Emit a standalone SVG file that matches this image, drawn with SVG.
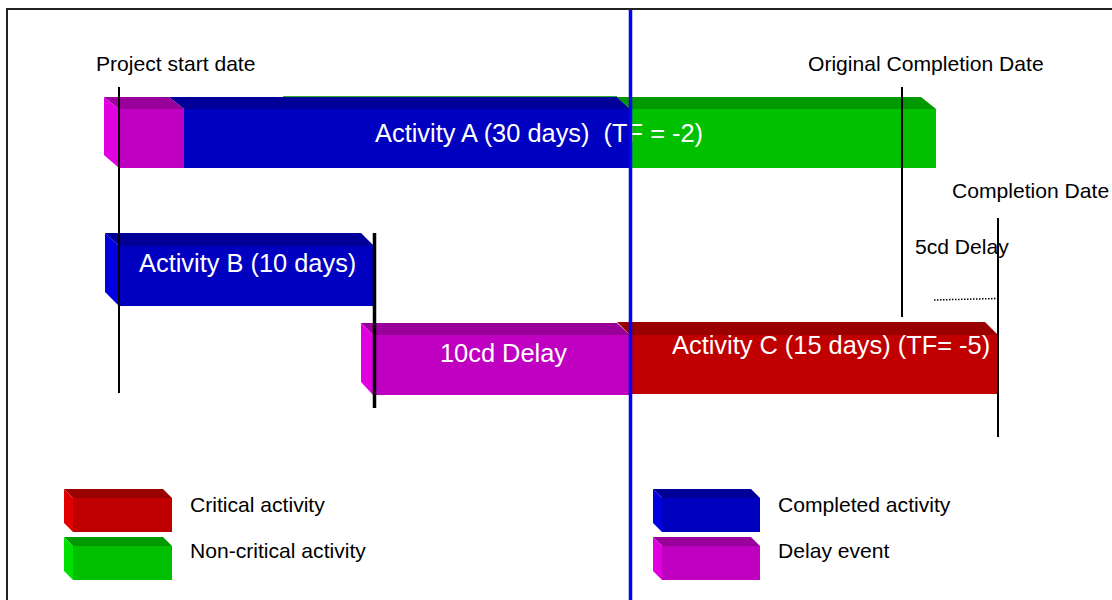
<svg xmlns="http://www.w3.org/2000/svg" width="1112" height="600" viewBox="0 0 1112 600">
<style>
text{font-family:"Liberation Sans",Arial,sans-serif}
.lbl{font-size:21.1px;fill:#000}
.bar{font-size:25.4px;fill:#fff}
.mf{fill:#C000C0}.mt{fill:#990099}.ms{fill:#E000E0}
.bf{fill:#0000C0}.bt{fill:#000099}.bs{fill:#0000E0}
.gf{fill:#00C000}.gt{fill:#009900}.gs{fill:#00E000}
.rf{fill:#C00000}.rt{fill:#990000}.rs{fill:#E00000}
.vl{stroke:#000;stroke-width:2;fill:none}
</style>
<rect width="1112" height="600" fill="#fff"/>
<path d="M7,600 V9 H1112" fill="none" stroke="#222" stroke-width="2"/>

<g id="activity-a">
  <line x1="283" y1="96.5" x2="617" y2="96.5" stroke="#009900" stroke-width="1" opacity="0.8"/>
  <g id="activity-a-green">
    <polygon class="gt" points="617,97 921,97 936,109 630,109"/>
    <rect class="gf" x="630" y="109" width="306" height="59"/>
  </g>
  <g id="activity-a-blue">
    <polygon class="bt" points="169,97 617,97 630,109 184,109"/>
    <rect class="bf" x="184" y="109" width="446" height="59"/>
  </g>
  <g id="activity-a-delay">
    <polygon class="mt" points="104,97 169,97 184,109 119,109"/>
    <polygon class="ms" points="104,97 119,109 119,168 104,155"/>
    <rect class="mf" x="119" y="109" width="65" height="59"/>
  </g>
  <text class="bar" x="375" y="142" xml:space="preserve">Activity A (30 days)  (TF = -2)</text>
</g>

<g id="activity-b">
  <polygon class="bt" points="105,233 361,233 374,246 119,246"/>
  <polygon class="bs" points="105,233 119,246 119,306 105,292"/>
  <rect class="bf" x="119" y="246" width="255" height="60"/>
  <text class="bar" x="139" y="272">Activity B (10 days)</text>
</g>

<g id="delay-10cd">
  <polygon class="mt" points="361,323 617,323 630,335 373,335"/>
  <polygon class="ms" points="361,323 373,335 373,395 361,382"/>
  <rect class="mf" x="373" y="335" width="257" height="60"/>
  <text class="bar" x="440" y="362">10cd Delay</text>
</g>

<g id="activity-c">
  <polygon class="rt" points="617,322 985,322 998,335 630,335"/>
  <rect class="rf" x="630" y="335" width="368" height="59"/>
  <text class="bar" x="672" y="354">Activity C (15 days) (TF= -5)</text>
</g>

<g id="connectors">
  <line class="vl" x1="119" y1="87" x2="119" y2="393"/>
  <line x1="374.5" y1="233" x2="374.5" y2="408" stroke="#000" stroke-width="3.5"/>
  <line class="vl" x1="902" y1="87" x2="902" y2="317"/>
  <line class="vl" x1="998" y1="218" x2="998" y2="437"/>
  <line x1="934" y1="300" x2="997" y2="298.5" stroke="#000" stroke-width="1.5" stroke-dasharray="1.5 1.5"/>
  <line x1="630.5" y1="10" x2="630.5" y2="600" stroke="#0000FF" stroke-width="3.5"/>
</g>

<g id="labels">
  <text class="lbl" x="96" y="71">Project start date</text>
  <text class="lbl" x="808" y="71">Original Completion Date</text>
  <text class="lbl" x="952" y="198">Completion Date</text>
  <text class="lbl" x="915" y="254">5cd Delay</text>
</g>

<g id="legend-critical">
  <polygon class="rt" points="64,489 163,489 172,498 73,498"/>
  <polygon class="rs" points="64,489 73,498 73,532 64,523"/>
  <rect class="rf" x="73" y="498" width="99" height="34"/>
  <text class="lbl" x="190" y="512">Critical activity</text>
</g>
<g id="legend-noncritical">
  <polygon class="gt" points="64,537 163,537 172,546 73,546"/>
  <polygon class="gs" points="64,537 73,546 73,580 64,571"/>
  <rect class="gf" x="73" y="546" width="99" height="34"/>
  <text class="lbl" x="190" y="558">Non-critical activity</text>
</g>
<g id="legend-completed">
  <polygon class="bt" points="653,489 751,489 760,498 662,498"/>
  <polygon class="bs" points="653,489 662,498 662,532 653,523"/>
  <rect class="bf" x="662" y="498" width="98" height="34"/>
  <text class="lbl" x="778" y="512">Completed activity</text>
</g>
<g id="legend-delay">
  <polygon class="mt" points="653,537 751,537 760,546 662,546"/>
  <polygon class="ms" points="653,537 662,546 662,580 653,571"/>
  <rect class="mf" x="662" y="546" width="98" height="34"/>
  <text class="lbl" x="778" y="558">Delay event</text>
</g>
</svg>
